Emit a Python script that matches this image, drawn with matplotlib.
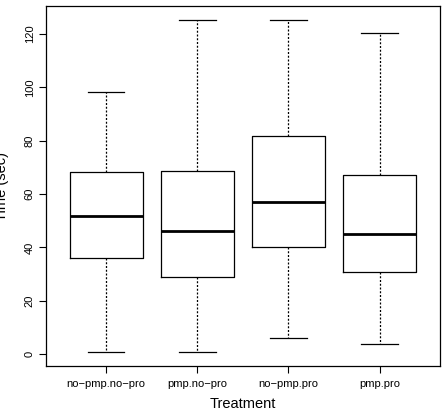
import matplotlib
matplotlib.use("Agg")
import matplotlib.pyplot as plt

plt.rcParams["font.family"] = ["Liberation Sans", "DejaVu Sans"]

# five-number summaries
treatments = ["no\u2212pmp.no\u2212pro", "pmp.no\u2212pro", "no\u2212pmp.pro", "pmp.pro"]
whisker_lo = [0.6, 0.6, 5.9, 3.9]
q1 = [36.1, 28.9, 40.1, 30.7]
median = [51.6, 46.0, 57.0, 45.0]
q3 = [68.1, 68.6, 81.7, 67.0]
whisker_hi = [98.1, 125.3, 125.2, 120.4]

stats = [dict(whislo=lo, q1=a, med=m, q3=b, whishi=hi, fliers=[], label=t)
         for t, lo, a, m, b, hi in zip(treatments, whisker_lo, q1, median, q3, whisker_hi)]

fig = plt.figure(figsize=(4.43, 4.16), dpi=100)
ax = fig.add_axes([0.1038, 0.120, 0.889, 0.8656])

ax.bxp(stats, positions=range(1, 5), widths=0.8, showfliers=False,
       boxprops=dict(color="black", lw=0.9),
       medianprops=dict(color="black", lw=2.0),
       whiskerprops=dict(color="black", lw=0.9, linestyle=(0, (1.6, 1.4))),
       capprops=dict(color="black", lw=0.9), capwidths=0.4)

ax.set_xlim(0.34, 4.66)
ax.set_ylim(-4.5, 130.5)
ax.set_yticks(range(0, 121, 20))
ax.set_yticklabels([str(v) for v in range(0, 121, 20)], rotation=90, va="center", fontsize=8)
ax.set_xticklabels(treatments, fontsize=8)
ax.tick_params(axis="both", length=5, width=0.8, pad=4)
ax.tick_params(axis="y", pad=3)
for s in ax.spines.values():
    s.set_linewidth(0.9)

ax.set_xlabel("Treatment", fontsize=10.5)
ax.set_ylabel("Time (sec)", fontsize=10.5)
ax.xaxis.set_label_coords(0.5, -0.085)
ax.yaxis.set_label_coords(-0.095, 0.5)

fig.savefig("out.png", dpi=100)
